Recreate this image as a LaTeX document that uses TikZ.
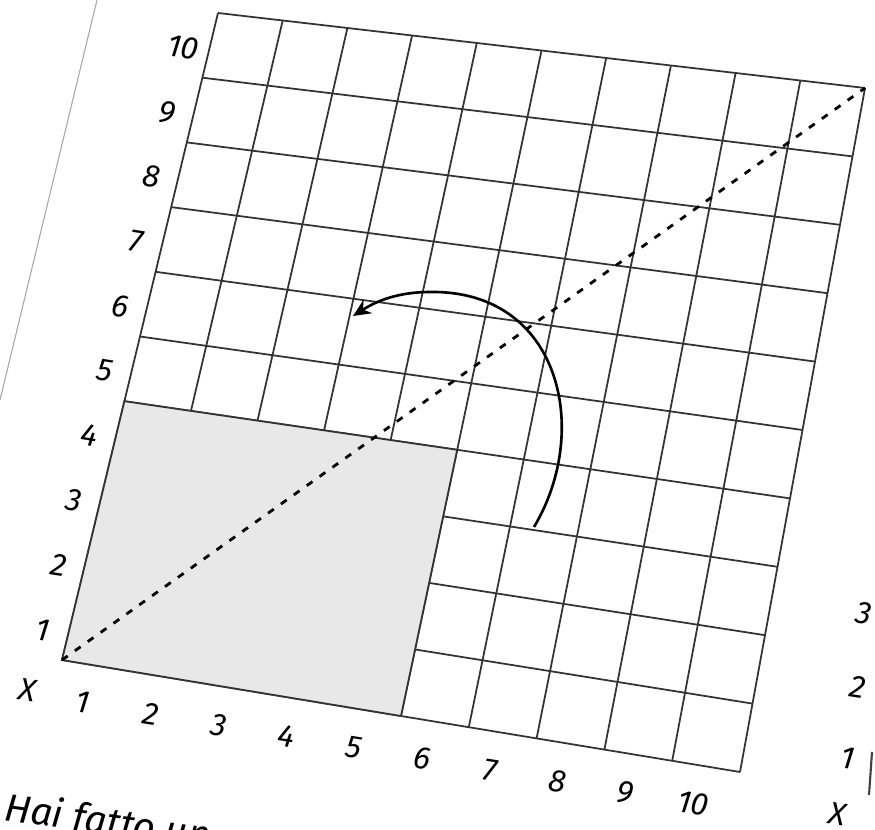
\documentclass[tikz,border=0pt]{standalone}
\usepackage{fontspec}
\setsansfont{Fira Sans}
\usepackage{tikz}
\usetikzlibrary{arrows.meta,calc}

\begin{document}
\begin{tikzpicture}[
      x=0.02cm, y=-0.02cm,
      gridline/.style={draw=black!80, line width=1pt},
      area/.style={fill=black!9, draw=black!80, line width=1pt},
      diag/.style={dash pattern=on 4pt off 5pt, line width=1.6pt},
      arrow/.style={-{Stealth[length=10pt, width=9pt]}, line width=1.5pt},
      numlabel/.style={font=\sffamily\itshape\fontsize{18}{20}\selectfont, rotate=-9, inner sep=0pt},
      pagetext/.style={font=\sffamily\itshape\fontsize{22}{26}\selectfont, rotate=-8, inner sep=0pt, anchor=base west}
]
      \useasboundingbox (0,0) rectangle (875,830);
      \clip (0,0) rectangle (875,830);

      % corners of the photographed grid
      \coordinate (O) at (62,660);
      \coordinate (BR) at (740,772);
      \coordinate (TL) at (218,13);
      \coordinate (TR) at (865,88);

      \foreach \i in {0,...,10} {
            \coordinate (b\i) at ($(O)!\i/10!(BR)$);
            \coordinate (t\i) at ($(TL)!\i/10!(TR)$);
            \coordinate (l\i) at ($(O)!\i/10!(TL)$);
            \coordinate (r\i) at ($(BR)!\i/10!(TR)$);
      }

      \draw[black!35, line width=0.6pt] (97,0) -- (0,400);

      \foreach \i in {0,...,10} \draw[gridline] (b\i) -- (t\i);
      \foreach \i in {0,...,10} \draw[gridline] (l\i) -- (r\i);

      % shaded 5 x 4 block
      \coordinate (S) at ($(b5)!0.4!(t5)$);
      \filldraw[area] (O) -- (b5) -- (S) -- (l4) -- cycle;

      \draw[diag] (O) -- (TR);

      \coordinate (turnstart) at (534,527);
      \coordinate (turnend) at (353,316);
      \draw[arrow] (turnstart) .. controls (592,430) and (560,290) .. (430,292)
            .. controls (400,292) and (378,300) .. (turnend);

      \foreach \j in {1,...,10}
            \node[numlabel] (left\j) at ($(O)!{(\j-0.5)/10}!(TL) + (-27,2)$) {\j};
      \foreach \i in {1,...,10}
            \node[numlabel] (bottom\i) at ($(O)!{(\i-0.5)/10}!(BR) + (-13,37)$) {\i};
      \node[numlabel] (xorig) at (28,690) {X};

      % edge of the next figure
      \node[numlabel] (other3) at (864,613) {3};
      \node[numlabel] (other2) at (858,687) {2};
      \node[numlabel] (other1) at (848,758) {1};
      \node[numlabel] (otherx) at (838,814) {X};
      \draw[black!75, line width=1.2pt] (872,752) -- (869,795);

      \node[pagetext] (caption) at (3,820) {Hai fatto un};
\end{tikzpicture}
\end{document}
